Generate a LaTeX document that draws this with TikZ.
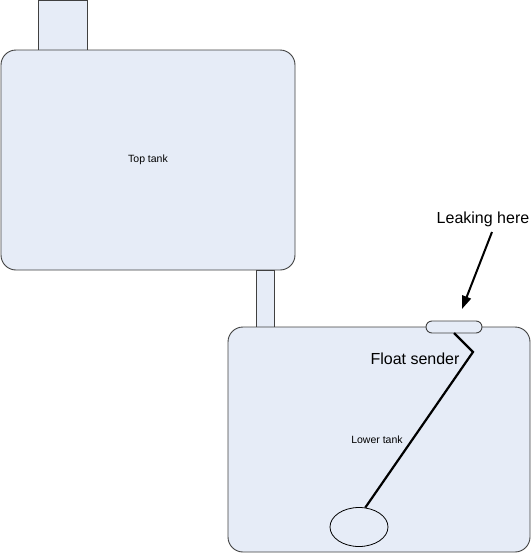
\documentclass[tikz,border=0pt]{standalone}
\usepackage{fontspec}
\setmainfont{Liberation Sans}
\usetikzlibrary{arrows.meta,shapes.geometric}
\definecolor{tankfill}{RGB}{230,236,247}
\definecolor{tankline}{RGB}{64,64,64}
\begin{document}
\begin{tikzpicture}[x=1pt,y=-1pt,
  tankpart/.style={draw=tankline,fill=tankfill,line width=0.9pt},
  lbl/.style={inner sep=0pt,text=black}]
\useasboundingbox (0,0) rectangle (532,555);
% top tank
\draw[tankpart] (38,0) rectangle (87,50);
\draw[tankpart,rounded corners=15] (1,50) rectangle (295,270);
\node[lbl,font=\fontsize{10.5}{12}\selectfont] (toplbl) at (148,160) {Top tank};
% connecting pipe
\draw[tankpart] (256,270) rectangle (274,327);
% lower tank
\draw[tankpart,rounded corners=15] (228,327) rectangle (530,552);
\node[lbl,font=\fontsize{10.5}{12}\selectfont] (lowlbl) at (377,440) {Lower tank};
% float sender
\draw[tankpart,rounded corners=6] (426,321) rectangle (482,333);
\coordinate (s0) at (454,333);
\coordinate (s1) at (473,352);
\node[draw=black,fill=tankfill,ellipse,minimum width=58,minimum height=39,inner sep=0pt,line width=0.8pt] (float) at (359,527) {};
\draw[line width=2.2pt,line join=miter] (s0) -- (s1) -- (float.72);
\node[lbl,font=\fontsize{16}{18}\selectfont,anchor=base] (fslbl) at (415,364) {Float sender};
% leak label and arrow
\node[lbl,font=\fontsize{16}{18}\selectfont] (leaklbl) at (483,219) {Leaking here};
\coordinate (tail) at (492,232);
\coordinate (tip) at (462,309);
\draw[line width=2pt,-{Triangle[length=13pt,width=9pt]}] (tail) -- (tip);
\end{tikzpicture}
\end{document}
